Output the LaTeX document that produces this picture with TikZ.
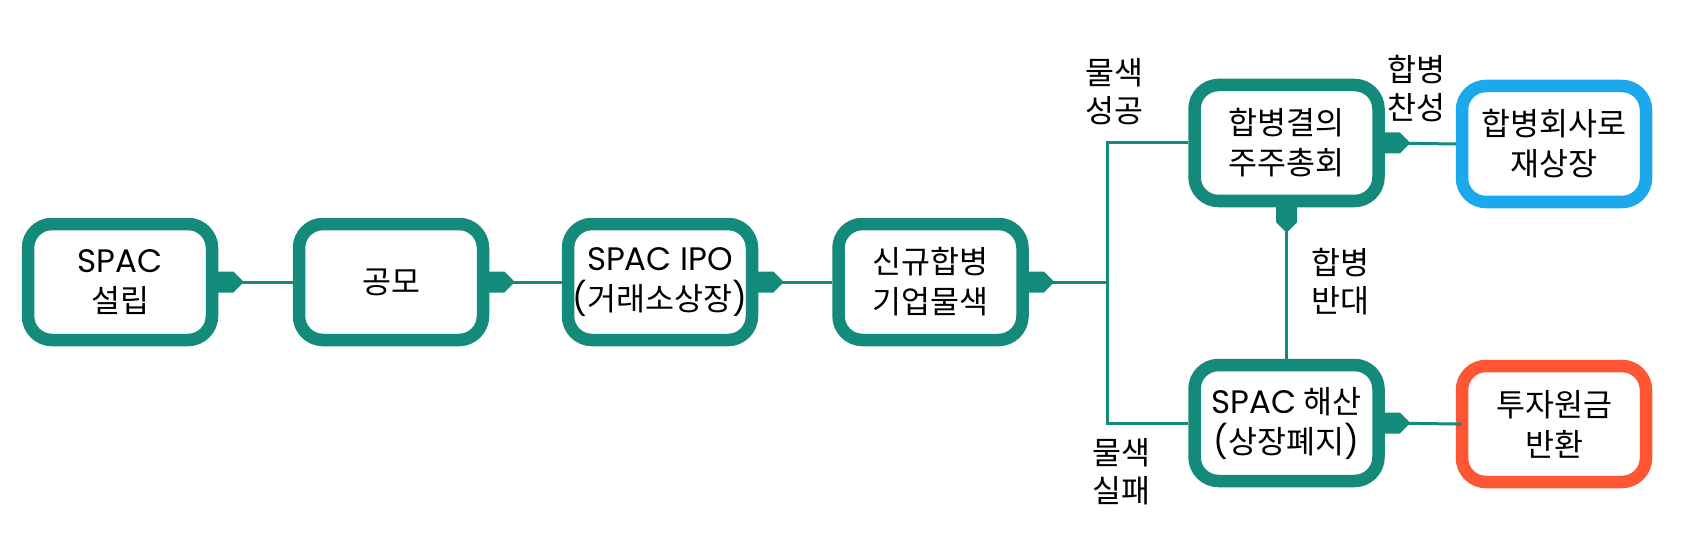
\documentclass[tikz,border=0pt]{standalone}
\usepackage{fontspec}
\setmainfont{Noto Sans CJK KR}
\newfontfamily\latfont{Poppins}
\newcommand\mylat[1]{{\latfont\fontsize{32.5}{40}\selectfont #1}}
\definecolor{tealc}{RGB}{20,138,122}
\definecolor{bluec}{RGB}{28,168,236}
\definecolor{redc}{RGB}{255,86,51}
\tikzset{
  box/.style={draw=tealc, line width=12.5pt, rounded corners=24pt, fill=white,
    minimum width=184pt, minimum height=116pt, align=center, inner sep=0pt,
    font=\fontsize{31.5}{40}\selectfont},
  lbl/.style={align=center, inner sep=0pt, font=\fontsize{31.5}{38}\selectfont},
  conn/.style={draw=tealc, line width=3pt},
}
\newcommand\stubR[1]{\fill[tealc] (#1.east) ++(-4,-10.5) -- ++(19,0) -- ++(9,9) -- ++(0,3) -- ++(-9,9) -- ++(-19,0) -- cycle;}
\newcommand\stubD[1]{\fill[tealc] (#1.south) ++(-10.5,-4) -- ++(21,0) -- ++(0,19) -- ++(-9,9) -- ++(-3,0) -- ++(-9,-9) -- cycle;}
\begin{document}
\begin{tikzpicture}[x=1pt,y=-1pt]
\useasboundingbox (0,0) rectangle (1688,540);
% nodes
\node[box] (n1) at (120,282) {\mylat{SPAC}\\설립};
\node[box] (n2) at (391,282) {공모};
\node[box] (n3) at (660,282) {\mylat{SPAC IPO}\\\mylat{(}거래소상장\mylat{)}};
\node[box] (n4) at (930.5,282) {신규합병\\기업물색};
\node[box] (n5) at (1286.5,143) {합병결의\\주주총회};
\node[box, draw=bluec] (n6) at (1554,144) {합병회사로\\재상장};
\node[box] (n7) at (1286.5,423) {\mylat{SPAC} 해산\\\mylat{(}상장폐지\mylat{)}};
\node[box, draw=redc] (n8) at (1554,424) {투자원금\\반환};
\coordinate (jx) at (1107,0);
% connectors
\draw[conn] (n1.east) -- (n2.west);
\draw[conn] (n2.east) -- (n3.west);
\draw[conn] (n3.east) -- (n4.west);
\draw[conn] (n4.east) -- (n4.east -| jx);
\draw[conn] (n5.west) -- (n5.west -| jx) -- (n7.west -| jx) -- (n7.west);
\draw[conn] (n5.east) -- (n6.west);
\draw[conn] (n5.south) -- (n7.north);
\draw[conn, shorten >=-6pt] (n7.east) -- (n8.west);
\stubR{n1}\stubR{n2}\stubR{n3}\stubR{n4}\stubR{n5}\stubR{n7}
\stubD{n5}
% labels
\node[lbl] (l1) at (1114,92) {물색\\성공};
\node[lbl] (l2) at (1416,89) {합병\\찬성};
\node[lbl] (l3) at (1340,282) {합병\\반대};
\node[lbl] (l4) at (1121,472) {물색\\실패};
\end{tikzpicture}
\end{document}
